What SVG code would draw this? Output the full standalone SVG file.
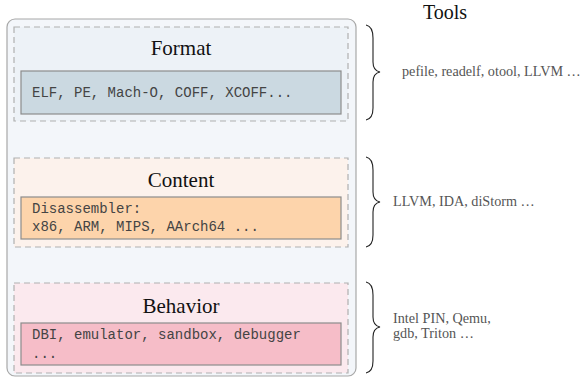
<svg xmlns="http://www.w3.org/2000/svg" width="581" height="379" viewBox="0 0 581 379">
<style>
.outer{fill:#f3f6fa;stroke:#a8a8a8;stroke-width:1.2}
.dash{stroke:#b0b0b0;stroke-width:1.2;stroke-dasharray:6 4}
.inner{stroke:#8c8c8c;stroke-width:1.2}
.title{font-family:"Liberation Serif","Times New Roman",serif;font-size:21px;fill:#111;text-anchor:middle}
.mono{font-family:"Liberation Mono","Courier New",monospace;font-size:14px;fill:#444}
.tool{font-family:"Liberation Serif","Times New Roman",serif;font-size:14.2px;fill:#555}
.brace{fill:none;stroke:#222;stroke-width:1.1}
</style>
<rect class="outer" x="7" y="19" width="349" height="357" rx="8"/>
<g id="format">
<rect class="dash" x="14" y="27" width="334" height="94" fill="#edf2f7"/>
<text class="title" x="181" y="55">Format</text>
<rect class="inner" x="21" y="71" width="320" height="43" fill="#cbd9e1"/>
<text class="mono" x="32" y="97">ELF, PE, Mach-O, COFF, XCOFF...</text>
</g>
<g id="content">
<rect class="dash" x="14" y="158" width="334" height="89" fill="#fcf2ec"/>
<text class="title" x="181" y="187">Content</text>
<rect class="inner" x="21" y="197" width="320" height="42" fill="#fdd4ab"/>
<text class="mono" x="32" y="213">Disassembler:</text>
<text class="mono" x="32" y="231">x86, ARM, MIPS, AArch64 ...</text>
</g>
<g id="behavior">
<rect class="dash" x="14" y="283" width="334" height="90" fill="#fbe9ee"/>
<text class="title" x="181" y="313">Behavior</text>
<rect class="inner" x="21" y="323" width="320" height="42" fill="#f6bdc8"/>
<text class="mono" x="32" y="339">DBI, emulator, sandbox, debugger</text>
<text class="mono" x="32" y="358">...</text>
</g>
<g id="tools">
<text x="445" y="19" font-family="Liberation Serif,'Times New Roman',serif" font-size="20" fill="#111" text-anchor="middle">Tools</text>
<text class="tool" x="402" y="76">pefile, readelf, otool, LLVM …</text>
<text class="tool" x="393" y="206">LLVM, IDA, diStorm …</text>
<text class="tool" x="393" y="323">Intel PIN, Qemu,</text>
<text class="tool" x="393" y="338">gdb, Triton …</text>
</g>
<g id="connectors">
<path class="brace" d="M366,25 C371,26 373,30 373,38 L373,62 C373,68 375,71 380,72 C375,73 373,76 373,82 L373,108 C373,115 371,119 366,120"/>
<path class="brace" d="M366,157 C371,158 373,162 373,170 L373,192 C373,198 375,201 380,202 C375,203 373,206 373,212 L373,235 C373,242 371,246 366,247"/>
<path class="brace" d="M366,282 C371,283 373,287 373,295 L373,317 C373,323 375,326 380,327 C375,328 373,331 373,337 L373,361 C373,368 371,372 366,373"/>
</g>
</svg>
